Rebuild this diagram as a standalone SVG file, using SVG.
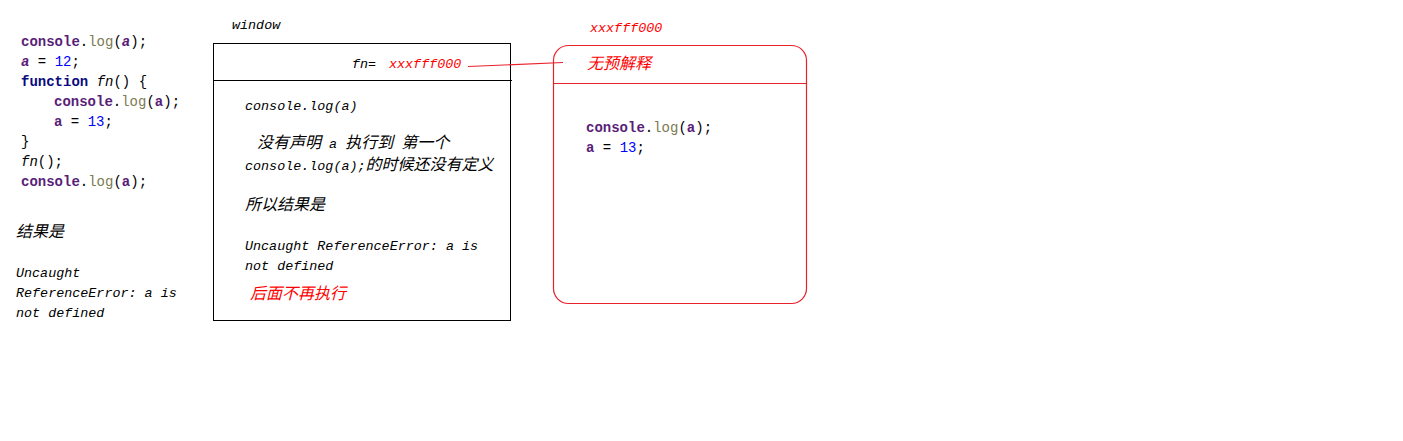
<svg xmlns="http://www.w3.org/2000/svg" width="1403" height="441" viewBox="0 0 1403 441">
<style>
.code{font-family:"Liberation Mono","Noto Sans CJK SC",monospace;font-size:14px;fill:#000;}
.kw{font-weight:bold;fill:#5a1e78;}
.fnk{font-weight:bold;fill:#0a0a80;}
.log{fill:#7b7b52;}
.num{fill:#0000ff;}
.it{font-family:"Liberation Mono","Noto Sans CJK SC",monospace;font-size:13.4px;font-style:italic;fill:#000;}
.cjk{font-family:"Noto Sans CJK SC",sans-serif;font-size:16px;font-style:italic;}
.red{fill:#ff0000;}
.box{fill:none;stroke:#000;stroke-width:1;}
.rbox{fill:none;stroke:#e8212b;stroke-width:1.2;}
</style>
<rect width="1403" height="441" fill="#fff"/>
<g id="source-code">
<text class="code" x="21" y="46"><tspan class="kw">console</tspan>.<tspan class="log">log</tspan>(<tspan class="kw" font-style="italic">a</tspan>);</text>
<text class="code" x="21" y="66"><tspan class="kw" font-style="italic">a</tspan> = <tspan class="num">12</tspan>;</text>
<text class="code" x="21" y="86"><tspan class="fnk">function</tspan> <tspan font-style="italic">fn</tspan>() {</text>
<text class="code" x="54" y="106"><tspan class="kw">console</tspan>.<tspan class="log">log</tspan>(<tspan class="kw">a</tspan>);</text>
<text class="code" x="54" y="126"><tspan class="kw">a</tspan> = <tspan class="num">13</tspan>;</text>
<text class="code" x="21" y="146">}</text>
<text class="code" x="21" y="166"><tspan font-style="italic">fn</tspan>();</text>
<text class="code" x="21" y="186"><tspan class="kw">console</tspan>.<tspan class="log">log</tspan>(<tspan class="kw">a</tspan>);</text>
</g>
<g id="result-note">
<text class="it" x="16" y="237"><tspan class="cjk">结果是</tspan></text>
<text class="it" x="16" y="277">Uncaught</text>
<text class="it" x="16" y="297">ReferenceError: a is</text>
<text class="it" x="16" y="317">not defined</text>
</g>
<g id="window">
<text class="it" x="232" y="29">window</text>
<rect class="box" x="213.5" y="43.5" width="297" height="277"/>
<line class="box" x1="213.5" y1="80.5" x2="512" y2="80.5"/>
<text class="it" x="352" y="68">fn=</text>
<text class="it red" x="389" y="68">xxxfff000</text>
<text class="it" x="245" y="110">console.log(a)</text>
<text class="it" x="257" y="148"><tspan class="cjk">没有声明</tspan> a  <tspan class="cjk">执行到</tspan> <tspan class="cjk">第一个</tspan></text>
<text class="it" x="245" y="170">console.log(a);<tspan class="cjk">的时候还没有定义</tspan></text>
<text class="it" x="245" y="210"><tspan class="cjk">所以结果是</tspan></text>
<text class="it" x="245" y="250">Uncaught ReferenceError: a is</text>
<text class="it" x="245" y="270">not defined</text>
<text class="it red" x="250" y="299"><tspan class="cjk">后面不再执行</tspan></text>
</g>
<g id="fn-heap">
<text class="it red" x="590" y="32">xxxfff000</text>
<rect class="rbox" x="553.5" y="45.5" width="253" height="258" rx="15" ry="15"/>
<line class="rbox" x1="553.5" y1="83.5" x2="806.5" y2="83.5"/>
<text class="it red" x="587" y="69"><tspan class="cjk">无预解释</tspan></text>
<text class="code" x="586" y="132"><tspan class="kw">console</tspan>.<tspan class="log">log</tspan>(<tspan class="kw">a</tspan>);</text>
<text class="code" x="586" y="152"><tspan class="kw">a</tspan> = <tspan class="num">13</tspan>;</text>
</g>
<g id="connectors">
<line x1="468" y1="66.5" x2="563" y2="62.5" stroke="#e8212b" stroke-width="1.2"/>
</g>
</svg>
